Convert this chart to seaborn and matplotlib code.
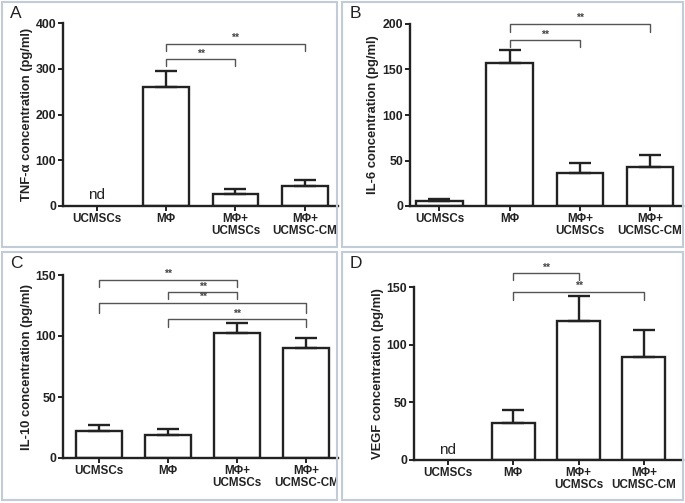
import numpy as np
import pandas as pd
import matplotlib
matplotlib.use("Agg")
import matplotlib.pyplot as plt
import seaborn as sns
from matplotlib.patches import Rectangle

sns.set_theme(style="ticks")
plt.rcParams['font.family'] = ['Liberation Sans', 'DejaVu Sans']

categories = ["UCMSCs", "MΦ", "MΦ+\nUCMSCs", "MΦ+\nUCMSC-CM"]

# Panel A: TNF-α
tnf_mean = [np.nan, 260, 26, 43]
tnf_err = [0, 35, 11, 13]
# Panel B: IL-6
il6_mean = [5.5, 157, 36, 43]
il6_err = [2.5, 14.5, 11, 13]
# Panel C: IL-10
il10_mean = [21.8, 19, 102.5, 90]
il10_err = [5.2, 5, 8.5, 8.7]
# Panel D: VEGF
vegf_mean = [np.nan, 32, 120.8, 89]
vegf_err = [0, 11.5, 21, 23.5]

# significance brackets: (from, to, height, tick drop)
brk_a = [(1, 2, 321, 15), (1, 3, 355, 17)]
brk_b = [(1, 2, 182, 7), (1, 3, 200, 9)]
brk_c = [(0, 2, 146, 6), (1, 2, 135.8, 5.2), (0, 3, 127.4, 8.8), (1, 3, 113.7, 6.5)]
brk_d = [(1, 2, 162, 6), (1, 3, 146, 7)]

panels = [
    dict(letter="A", mean=tnf_mean, err=tnf_err, brk=brk_a, ylim=400, ticks=[0, 100, 200, 300, 400],
         ylabel="TNF-α concentration (pg/ml)", nd=[0], xlim=(-0.49, 3.48),
         pos=(63, 338, 206, 23), ylx=27, box=(2, 2, 337, 247)),
    dict(letter="B", mean=il6_mean, err=il6_err, brk=brk_b, ylim=200, ticks=[0, 50, 100, 150, 200],
         ylabel="IL-6 concentration (pg/ml)", nd=[], xlim=(-0.42, 3.47),
         pos=(410, 683, 206, 24), ylx=373, box=(342, 2, 683, 247)),
    dict(letter="C", mean=il10_mean, err=il10_err, brk=brk_c, ylim=150, ticks=[0, 50, 100, 150],
         ylabel="IL-10 concentration (pg/ml)", nd=[], xlim=(-0.52, 3.46),
         pos=(63, 338, 458, 275), ylx=27, box=(2, 252, 337, 500)),
    dict(letter="D", mean=vegf_mean, err=vegf_err, brk=brk_d, ylim=150, ticks=[0, 50, 100, 150],
         ylabel="VEGF concentration (pg/ml)", nd=[0], xlim=(-0.52, 3.6),
         pos=(414, 683, 460, 287), ylx=378, box=(342, 252, 683, 500)),
]

W, H = 685, 503
fig = plt.figure(figsize=(W / 100, H / 100), dpi=100)

border = "#c2ccd8"
for p in panels:
    x0, y0, x1, y1 = p["box"]
    fig.patches.append(Rectangle((x0 / W, 1 - y1 / H), (x1 - x0) / W, (y1 - y0) / H,
                                 transform=fig.transFigure, fill=False,
                                 edgecolor=border, linewidth=1.5, zorder=0))

for p in panels:
    l, r, b, t = p["pos"]
    ax = fig.add_axes([l / W, 1 - b / H, (r - l) / W, (b - t) / H])
    df = pd.DataFrame({"group": categories, "value": p["mean"]})
    sns.barplot(data=df, x="group", y="value", ax=ax, color="white",
                edgecolor="#222222", linewidth=1.7, width=0.66, errorbar=None,
                order=categories)
    xs = np.arange(len(categories))
    means = np.array(p["mean"], dtype=float)
    errs = np.array(p["err"], dtype=float)
    ok = ~np.isnan(means)
    ax.errorbar(xs[ok], means[ok], yerr=[np.zeros(ok.sum()), errs[ok]],
                fmt="none", ecolor="#222222", elinewidth=1.7, capsize=8, capthick=1.7, zorder=1)
    for i in p["nd"]:
        ax.text(xs[i], p["ylim"] * 0.02, "nd", ha="center", va="bottom", fontsize=11, color="#222222")
    for (a, bb, h, d) in p["brk"]:
        ax.plot([a, a, bb, bb], [h - d, h, h, h - d], color="#555555", lw=1.0, clip_on=False)
        ax.text((a + bb) / 2, h + p["ylim"] * 0.004, "**", ha="center", va="bottom",
                fontsize=7.5, color="#444444", fontweight="bold")
    ax.set_ylim(0, p["ylim"])
    ax.set_xlim(*p["xlim"])
    ax.set_yticks(p["ticks"])
    ax.set_xlabel("")
    ax.set_ylabel("")
    ax.set_xticks(xs)
    ax.set_xticklabels(categories, fontsize=8.4, fontweight="bold", linespacing=1.0)
    for lab in ax.get_yticklabels():
        lab.set_fontweight("bold")
        lab.set_fontsize(8.8)
    sns.despine(ax=ax)
    for s in ["left", "bottom"]:
        ax.spines[s].set_linewidth(1.7)
        ax.spines[s].set_color("#222222")
    ax.tick_params(axis="both", width=1.4, length=3.5, colors="#222222", pad=1.5)
    ax.set_facecolor("none")
    fig.text(p["ylx"] / W, 1 - ((b + t) / 2) / H, p["ylabel"], rotation=90,
             ha="center", va="center", fontsize=9.4, fontweight="bold", color="#222222")
    fig.text((p["box"][0] + 8) / W, 1 - (p["box"][1] + 4) / H, p["letter"],
             ha="left", va="top", fontsize=12.5, color="#222222")

fig.savefig("out.png", dpi=100, facecolor="white")
